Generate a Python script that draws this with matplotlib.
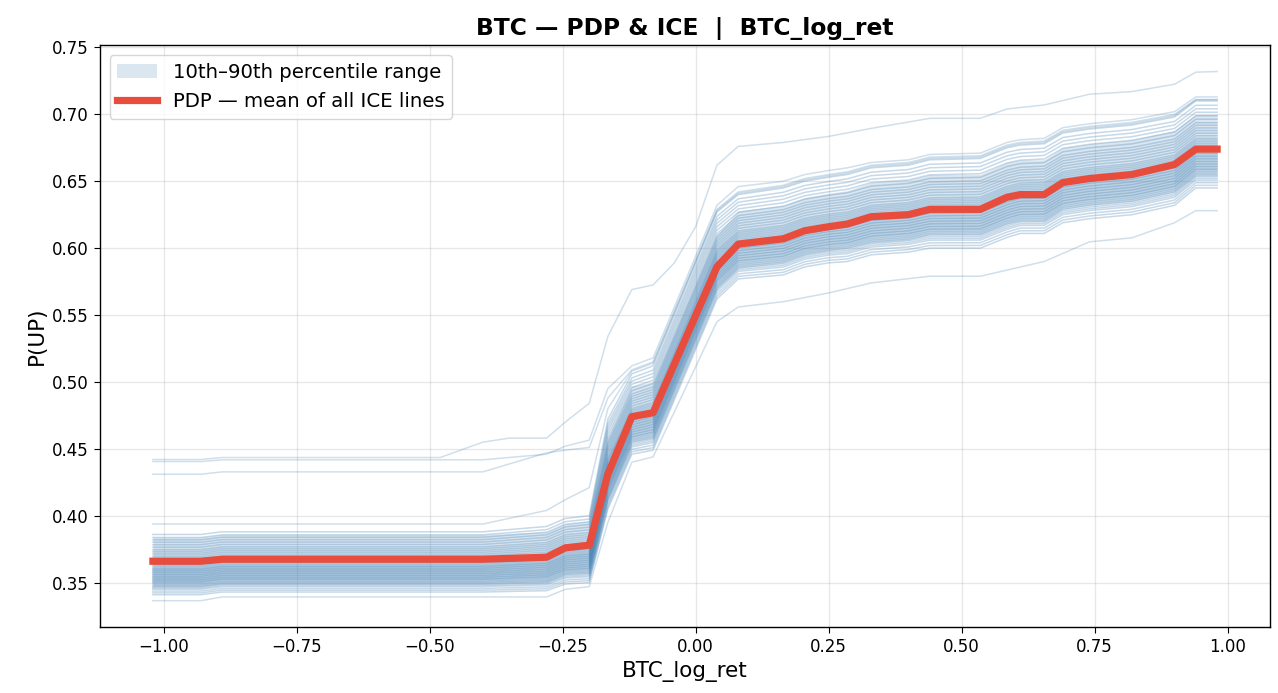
import numpy as np
import matplotlib
matplotlib.use("Agg")
import matplotlib.pyplot as plt

# grid of BTC_log_ret values shared by the PDP, the band and the ICE bundle
grid_x = [-1.02, -0.93, -0.89, -0.40, -0.28, -0.245, -0.20, -0.165, -0.12, -0.08,
          0.04, 0.08, 0.165, 0.205, 0.25, 0.285, 0.33, 0.40, 0.44, 0.535,
          0.585, 0.61, 0.655, 0.69, 0.74, 0.82, 0.90, 0.94, 0.98]

# PDP (mean of ICE lines)
pdp = [0.366, 0.366, 0.3675, 0.3675, 0.369, 0.376, 0.378, 0.431, 0.474, 0.477,
       0.586, 0.603, 0.607, 0.613, 0.616, 0.618, 0.6235, 0.625, 0.629, 0.629,
       0.638, 0.640, 0.640, 0.649, 0.652, 0.655, 0.6625, 0.674, 0.674]

# 10th / 90th percentile of the ICE lines
band_lo = [0.347, 0.347, 0.349, 0.349, 0.350, 0.356, 0.357, 0.412, 0.455, 0.458,
           0.570, 0.585, 0.589, 0.595, 0.598, 0.600, 0.604, 0.606, 0.610, 0.610,
           0.618, 0.620, 0.620, 0.629, 0.632, 0.635, 0.642, 0.654, 0.654]
band_hi = [0.384, 0.384, 0.386, 0.386, 0.388, 0.394, 0.396, 0.458, 0.497, 0.500,
           0.610, 0.628, 0.632, 0.638, 0.641, 0.643, 0.649, 0.651, 0.655, 0.655,
           0.664, 0.666, 0.666, 0.675, 0.678, 0.681, 0.688, 0.700, 0.700]

# edges of the dense ICE bundle
bundle_hi = [0.386, 0.386, 0.388, 0.388, 0.392, 0.398, 0.400, 0.472, 0.506, 0.512,
             0.627, 0.640, 0.645, 0.650, 0.653, 0.655, 0.660, 0.662, 0.666, 0.667,
             0.675, 0.677, 0.678, 0.686, 0.689, 0.692, 0.698, 0.710, 0.710]
bundle_lo = [0.341, 0.341, 0.343, 0.343, 0.344, 0.349, 0.350, 0.405, 0.446, 0.449,
             0.562, 0.577, 0.580, 0.586, 0.589, 0.590, 0.595, 0.597, 0.600, 0.600,
             0.608, 0.611, 0.611, 0.619, 0.622, 0.625, 0.632, 0.645, 0.645]

# relative position of each bundle ICE line between the bundle edges
bundle_pos = [0.0, 0.03, 0.06, 0.09, 0.11, 0.13, 0.15, 0.17, 0.19, 0.21, 0.22,
              0.24, 0.25, 0.27, 0.28, 0.30, 0.31, 0.33, 0.34, 0.36, 0.37, 0.39,
              0.40, 0.42, 0.43, 0.45, 0.47, 0.49, 0.51, 0.53, 0.55, 0.57, 0.60,
              0.63, 0.66, 0.69, 0.72, 0.75, 0.79, 0.83, 0.87, 0.91, 0.95, 1.0]

# individual ICE lines outside the bundle
top_x = [-1.02, -0.93, -0.89, -0.48, -0.40, -0.35, -0.28, -0.245, -0.20, -0.165,
         -0.12, -0.08, -0.04, 0.00, 0.04, 0.08, 0.165, 0.25, 0.33, 0.44, 0.535,
         0.585, 0.655, 0.74, 0.82, 0.90, 0.94, 0.98]
top_y = [0.442, 0.442, 0.4435, 0.4435, 0.455, 0.458, 0.458, 0.470, 0.484, 0.534,
         0.569, 0.5725, 0.589, 0.616, 0.662, 0.676, 0.679, 0.6835, 0.6895, 0.697,
         0.697, 0.704, 0.707, 0.715, 0.717, 0.7225, 0.7315, 0.732]

hi2_y = [0.4405, 0.4405, 0.4418, 0.4418, 0.446, 0.452, 0.4565, 0.495, 0.512, 0.518,
         0.632, 0.646, 0.650, 0.655, 0.658, 0.660, 0.664, 0.666, 0.670, 0.671,
         0.679, 0.681, 0.682, 0.690, 0.693, 0.696, 0.702, 0.713, 0.713]
hi3_y = [0.431, 0.431, 0.4328, 0.4328, 0.447, 0.449, 0.451, 0.488, 0.509, 0.515,
         0.629, 0.642, 0.647, 0.652, 0.655, 0.657, 0.662, 0.664, 0.668, 0.669,
         0.677, 0.679, 0.680, 0.688, 0.691, 0.694, 0.700, 0.711, 0.711]
hi4_y = [0.3938, 0.3938, 0.3938, 0.3938, 0.404, 0.412, 0.421, 0.480, 0.508, 0.514,
         0.628, 0.641, 0.646, 0.651, 0.654, 0.656, 0.661, 0.663, 0.667, 0.668,
         0.676, 0.678, 0.679, 0.687, 0.690, 0.693, 0.699, 0.711, 0.711]

low_x = [-1.02, -0.93, -0.89, -0.40, -0.28, -0.245, -0.20, -0.165, -0.12, -0.08,
         0.04, 0.08, 0.165, 0.25, 0.33, 0.44, 0.535, 0.655, 0.74, 0.82, 0.90,
         0.94, 0.98]
low_y = [0.3365, 0.3365, 0.3393, 0.3393, 0.3393, 0.345, 0.347, 0.395, 0.440, 0.444,
         0.545, 0.556, 0.560, 0.5665, 0.574, 0.579, 0.579, 0.590, 0.6047, 0.6077,
         0.619, 0.628, 0.628]

ice_color = "steelblue"
pdp_color = "#e74c3c"

plt.rcParams["axes.linewidth"] = 1.0
plt.rcParams["xtick.major.size"] = 4.2
plt.rcParams["ytick.major.size"] = 4.2

fig, ax = plt.subplots(figsize=(12.78, 6.93), dpi=100)
fig.subplots_adjust(left=0.078, right=0.994, top=0.935, bottom=0.095)

gx = np.array(grid_x)
lo = np.array(bundle_lo)
hi = np.array(bundle_hi)

# ICE lines
for p in bundle_pos:
    ax.plot(gx, lo + p * (hi - lo), color=ice_color, alpha=0.3, lw=1.1, zorder=2)
for y in (hi2_y, hi3_y, hi4_y):
    ax.plot(gx, y, color=ice_color, alpha=0.25, lw=1.1, zorder=2)
ax.plot(top_x, top_y, color=ice_color, alpha=0.25, lw=1.1, zorder=2)
ax.plot(low_x, low_y, color=ice_color, alpha=0.25, lw=1.1, zorder=2)

# percentile band
ax.fill_between(gx, band_lo, band_hi, color=ice_color, alpha=0.2, lw=0,
                label="10th\u201390th percentile range", zorder=1)

# PDP
ax.plot(gx, pdp, color=pdp_color, lw=5.2, label="PDP \u2014 mean of all ICE lines", zorder=5)

ax.set_xticks(np.arange(-1.0, 1.01, 0.25))
ax.grid(True, alpha=0.3, lw=0.95)
ax.tick_params(labelsize=12)
ax.set_xlabel("BTC_log_ret", fontsize=15.5)
ax.set_ylabel("P(UP)", fontsize=15.5)
ax.set_title("BTC \u2014 PDP & ICE  |  BTC_log_ret", fontsize=16.8, fontweight="bold", pad=7)
ax.legend(loc="upper left", fontsize=14.2)

fig.savefig("out.png", dpi=100)
